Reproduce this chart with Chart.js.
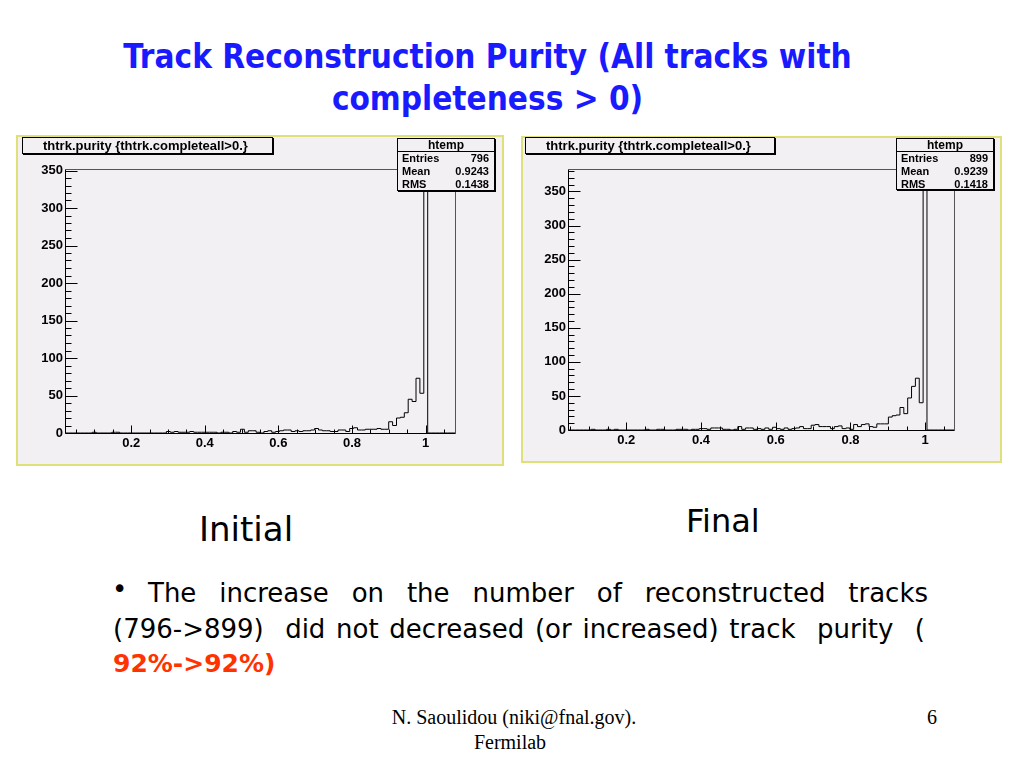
<!DOCTYPE html>
<html><head><meta charset="utf-8">
<script src="https://cdn.jsdelivr.net/npm/chart.js@4.4.0/dist/chart.umd.min.js"></script>
<style>
html,body{margin:0;padding:0;background:#fff;width:1024px;height:768px;overflow:hidden;position:relative;font-family:"DejaVu Sans",sans-serif;}
#title{position:absolute;left:0;top:36px;width:975px;text-align:center;color:#1a1aff;font-weight:bold;font-size:33px;line-height:42px;font-family:"DejaVu Sans Condensed","DejaVu Sans",sans-serif;white-space:nowrap;}
.wrap{position:absolute;}
.frameb{position:absolute;left:0;top:0;right:0;bottom:0;background:#f3f0f3;border:2px solid #e0e07a;box-sizing:border-box;}
.wrap canvas{position:absolute;left:0;top:0;}
.htitle{position:absolute;border:1px solid #000;box-shadow:1px 1px 0 #000;background:#f3f0f3;font:bold 13px "Liberation Sans",Arial,sans-serif;color:#000;box-sizing:border-box;line-height:15px;padding-left:20px;white-space:nowrap;}
.stats{position:absolute;border:1px solid #000;box-shadow:1px 1px 0 #000;background:#f3f0f3;font:bold 11px "Liberation Sans",Arial,sans-serif;color:#000;box-sizing:border-box;}
.stats .sh{height:12px;line-height:12px;text-align:center;border-bottom:1px solid #000;font-size:12px;}
.stats .row{height:13px;line-height:13px;display:flex;justify-content:space-between;padding:0 5px 0 4px;}
.txt{position:absolute;white-space:nowrap;font-family:"DejaVu Sans",sans-serif;font-size:26px;line-height:26px;color:#000;}
.just{text-align:justify;text-align-last:justify;white-space:normal;}
.foot{position:absolute;font-family:"Liberation Serif","Times New Roman",serif;font-size:20px;line-height:20px;color:#000;white-space:nowrap;text-align:center;}
</style>
</head>
<body>
<div id="title">Track Reconstruction Purity (All tracks with<br>completeness &gt; 0)</div>

<div class="wrap" id="wrapL" style="left:16px;top:135px;width:488px;height:331px;">
  <div class="frameb"></div>
  <canvas id="histL" width="488" height="331"></canvas>
  <div class="htitle" id="titleL" style="left:6px;top:2px;width:251px;height:17px;"></div>
  <div class="stats" id="statsL" style="left:381px;top:3px;width:98px;height:53px;"></div>
</div>

<div class="wrap" id="wrapR" style="left:521px;top:136px;width:481px;height:327px;">
  <div class="frameb"></div>
  <canvas id="histR" width="481" height="327"></canvas>
  <div class="htitle" id="titleR" style="left:4px;top:1px;width:250px;height:17px;"></div>
  <div class="stats" id="statsR" style="left:375px;top:2px;width:98px;height:52px;"></div>
</div>

<div class="txt" style="left:199px;top:512px;font-size:34px;line-height:34px;">Initial</div>
<div class="txt" style="left:686px;top:505px;font-size:32px;line-height:32px;">Final</div>

<div class="txt" style="left:112px;top:576px;">•</div>
<div class="txt just" style="left:148px;top:580px;width:780px;">The increase on the number of reconstructed tracks</div>
<div class="txt just" style="left:113px;top:616px;width:812px;">(796-&gt;899)&nbsp; did not decreased (or increased) track&nbsp; purity&nbsp; (</div>
<div class="txt" style="left:113px;top:651px;color:#ff3300;font-weight:bold;font-size:25px;line-height:25px;">92%-&gt;92%)</div>

<div class="foot" style="left:362px;top:707px;width:304px;">N. Saoulidou (niki@fnal.gov).</div>
<div class="foot" style="left:362px;top:732px;width:296px;">Fermilab</div>
<div class="foot" style="left:927px;top:707px;">6</div>

<script>
// ---- data ----
const histTitle = 'thtrk.purity {thtrk.completeall>0.}';
const statLabels = ['Entries', 'Mean', 'RMS'];
const initialStats = ['796', '0.9243', '0.1438'];
const finalStats = ['899', '0.9239', '0.1418'];

// 100 bins each
const initialRange = [0.02, 1.08];
const finalRange = [0.044, 1.077];
const initialYMax = 352;
const finalYMax = 383;

const initialCounts = [
  0,0,0,0,0,0,0,1,0,0,
  0,0,1,1,0,0,0,0,0,0,
  0,0,0,0,0,0,2,1,2,1,
  1,1,2,1,1,1,1,1,1,0,
  1,1,0,2,1,5,1,3,3,1,
  0,2,3,1,2,3,4,4,2,3,
  2,3,3,4,6,4,3,3,2,2,
  4,4,2,6,7,4,4,5,5,5,
  6,5,5,15,10,20,21,27,45,42,
  73,53,335,0,0,0,0,0,0,0
];
const finalCounts = [
  0,0,0,0,0,0,1,0,0,0,
  1,0,1,0,0,0,0,0,0,0,
  1,0,0,1,1,0,0,0,1,1,
  1,0,1,1,2,2,1,3,3,3,
  1,1,0,1,5,1,3,3,1,2,
  1,3,1,4,2,1,3,1,2,3,
  5,2,2,7,8,5,5,5,2,5,
  6,2,3,1,8,5,8,9,5,4,
  9,9,9,19,21,22,33,24,47,64,
  76,40,365,0,0,0,0,0,0,0
];

const xTickLabels = [0.2, 0.4, 0.6, 0.8, 1];
const yTickLabels = [0, 50, 100, 150, 200, 250, 300, 350];

// ---- ROOT-like frame & inward ticks ----
const rootFrame = {
  id: 'rootFrame',
  afterDraw(chart) {
    const { ctx, chartArea: a, scales: { x, y } } = chart;
    const L = Math.round(a.left) + 0.5, R = Math.round(a.right) + 0.5;
    const T = Math.round(a.top) + 0.5, B = Math.round(a.bottom) + 0.5;
    ctx.save();
    ctx.lineWidth = 1;
    ctx.strokeStyle = '#555';
    ctx.beginPath();
    ctx.moveTo(L, T); ctx.lineTo(R, T); ctx.lineTo(R, B);
    ctx.stroke();
    ctx.strokeStyle = '#000';
    ctx.beginPath();
    ctx.moveTo(L, T); ctx.lineTo(L, B); ctx.lineTo(R, B);
    for (let k = Math.ceil(x.min / 0.05 - 1e-9); k * 0.05 <= x.max + 1e-9; k++) {
      const v = k * 0.05;
      const px = Math.round(x.getPixelForValue(v)) + 0.5;
      const major = xTickLabels.some(t => Math.abs(t - v) < 1e-6);
      ctx.moveTo(px, B); ctx.lineTo(px, B - (major ? 8 : 4));
    }
    for (let v = 0; v <= y.max + 1e-9; v += 10) {
      const py = Math.round(y.getPixelForValue(v)) + 0.5;
      const major = yTickLabels.includes(v);
      ctx.moveTo(L, py); ctx.lineTo(L + (major ? 12 : 6), py);
    }
    ctx.stroke();
    ctx.restore();
  }
};

function makeHist(id, counts, range, yMax, geo) {
  const w = (range[1] - range[0]) / counts.length;
  const pts = counts.map((c, i) => ({ x: range[0] + i * w, y: c }));
  pts.push({ x: range[1], y: 0 });
  const tickFont = { family: 'Liberation Sans', weight: 'bold', size: 13 };
  return new Chart(document.getElementById(id), {
    type: 'line',
    data: { datasets: [{ data: pts, borderColor: '#000', borderWidth: 1, pointRadius: 0, stepped: true, fill: false, tension: 0 }] },
    plugins: [rootFrame],
    options: {
      responsive: false, animation: false, events: [],
      layout: { padding: { left: 0, right: geo.right, top: geo.top, bottom: 3 } },
      plugins: { legend: { display: false }, tooltip: { enabled: false }, title: { display: false } },
      scales: {
        x: {
          type: 'linear', min: range[0], max: range[1],
          grid: { display: false, drawTicks: false }, border: { display: false },
          afterBuildTicks: s => { s.ticks = xTickLabels.map(v => ({ value: v })); },
          afterFit: s => { s.height = 30; },
          ticks: { font: tickFont, color: '#000', padding: 3, maxRotation: 0, autoSkip: false, callback: v => String(v) }
        },
        y: {
          type: 'linear', min: 0, max: yMax,
          grid: { display: false, drawTicks: false }, border: { display: false },
          afterBuildTicks: s => { s.ticks = yTickLabels.map(v => ({ value: v })); },
          afterFit: s => { s.width = geo.left; },
          ticks: { font: tickFont, color: '#000', padding: 2, autoSkip: false }
        }
      }
    }
  });
}

function fillBoxes(tid, sid, stats) {
  document.getElementById(tid).textContent = histTitle;
  const s = document.getElementById(sid);
  let html = '<div class="sh">htemp</div>';
  statLabels.forEach((l, i) => { html += '<div class="row"><span>' + l + '</span><span>' + stats[i] + '</span></div>'; });
  s.innerHTML = html;
}

makeHist('histL', initialCounts, initialRange, initialYMax, { left: 49, right: 49, top: 34 });
makeHist('histR', finalCounts, finalRange, finalYMax, { left: 47, right: 48, top: 33 });
fillBoxes('titleL', 'statsL', initialStats);
fillBoxes('titleR', 'statsR', finalStats);
</script>
</body></html>
